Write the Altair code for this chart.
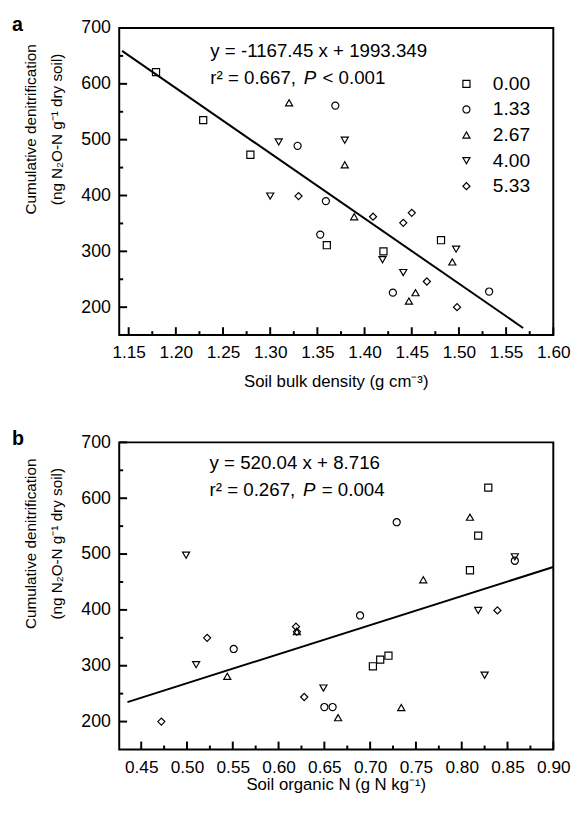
import altair as alt
import pandas as pd

FONT = "Liberation Sans"
levels = ["0.00", "1.33", "2.67", "4.00", "5.33"]
shapes = ["square", "circle", "triangle-up", "triangle-down", "diamond"]

# Panel a: soil bulk density (x) vs cumulative denitrification (y)
a_x_000 = [1.179, 1.229, 1.279, 1.360, 1.420, 1.481]
a_y_000 = [621, 535, 473, 311, 300, 320]
a_x_133 = [1.369, 1.329, 1.359, 1.353, 1.430, 1.532]
a_y_133 = [561, 489, 390, 330, 226, 228]
a_x_267 = [1.320, 1.379, 1.389, 1.493, 1.454, 1.447]
a_y_267 = [566, 455, 362, 281, 226, 211]
a_x_400 = [1.379, 1.309, 1.300, 1.497, 1.419, 1.441]
a_y_400 = [499, 496, 399, 304, 285, 262]
a_x_533 = [1.330, 1.409, 1.441, 1.450, 1.466, 1.498]
a_y_533 = [399, 362, 351, 369, 246, 200]

# Panel b: soil organic N (x) vs cumulative denitrification (y)
b_x_000 = [0.829, 0.818, 0.809, 0.703, 0.711, 0.720]
b_y_000 = [619, 533, 471, 299, 311, 318]
b_x_133 = [0.729, 0.858, 0.689, 0.551, 0.650, 0.659]
b_y_133 = [557, 488, 390, 330, 226, 226]
b_x_267 = [0.809, 0.758, 0.544, 0.734, 0.665, 0.620]
b_y_267 = [566, 454, 281, 225, 207, 361]
b_x_400 = [0.858, 0.499, 0.818, 0.510, 0.825, 0.649]
b_y_400 = [495, 498, 399, 302, 283, 260]
b_x_533 = [0.839, 0.522, 0.628, 0.472, 0.619, 0.620]
b_y_533 = [399, 350, 244, 200, 370, 361]

# Axis ticks
y_major = [200, 300, 400, 500, 600, 700]
y_minor = [250, 350, 450, 550, 650]
a_x_major = [1.15, 1.20, 1.25, 1.30, 1.35, 1.40, 1.45, 1.50, 1.55, 1.60]
a_x_minor = [1.175, 1.225, 1.275, 1.325, 1.375, 1.425, 1.475, 1.525, 1.575]
b_x_major = [0.45, 0.50, 0.55, 0.60, 0.65, 0.70, 0.75, 0.80, 0.85, 0.90]
b_x_minor = [0.475, 0.525, 0.575, 0.625, 0.675, 0.725, 0.775, 0.825, 0.875]

# Regression lines (from the printed equations)
a_slope, a_intercept = -1167.45, 1993.349
a_line_x = [1.143, 1.568]
b_slope, b_intercept = 520.04, 8.716
b_line_x = [0.435, 0.90]

Y_TITLE_1 = "Cumulative denitrification"
Y_TITLE_2 = "(ng N\u2082O-N  g\u207b\u00b9 dry soil)"
W, H = 441, 312
TXT = 19


def build_panel(xs, ys, xdom, xmaj, xmin, xtitle, xtitle_gap, slope, intercept,
                line_x, eq1, eq2a, eq2b, eq2c, eqx, eqy1, eqy2, letter, show_legend):
    rows = []
    for lvl, xv, yv in zip(levels, xs, ys):
        for a, b in zip(xv, yv):
            rows.append({"x": a, "y": b, "level": lvl})
    df = pd.DataFrame(rows)
    xscale = alt.Scale(domain=xdom, nice=False, zero=False)
    yscale = alt.Scale(domain=[150, 700], nice=False, zero=False)

    x_axis = alt.Axis(values=xmaj, format=".2f", orient="bottom", ticks=False,
                      domain=False, grid=False, labelPadding=9, labelFontSize=17.5,
                      labelFont=FONT, labelColor="black", title=None,
                      labelFlush=False)
    y_axis = alt.Axis(values=y_major, format="d", orient="left", ticks=False,
                      domain=False, grid=False, labelPadding=9, labelFontSize=18,
                      labelFont=FONT, labelColor="black", title=None,
                      labelFlush=False)

    if show_legend:
        legend = alt.Legend(orient="none", legendX=343, legendY=47, title=None,
                            labelFontSize=19.5, labelFont=FONT, labelColor="black",
                            symbolSize=52, symbolStrokeWidth=1.2,
                            symbolStrokeColor="black", labelOffset=17, rowPadding=5)
    else:
        legend = None

    points = alt.Chart(df).mark_point(filled=False, color="black", size=52,
                                      strokeWidth=1.2, opacity=1).encode(
        x=alt.X("x:Q", scale=xscale, axis=x_axis),
        y=alt.Y("y:Q", scale=yscale, axis=y_axis),
        shape=alt.Shape("level:N", scale=alt.Scale(domain=levels, range=shapes),
                        legend=legend),
    )

    line = alt.Chart(pd.DataFrame({"x": line_x})).transform_calculate(
        y=f"{slope} * datum.x + {intercept}"
    ).mark_line(color="black", strokeWidth=2).encode(
        x=alt.X("x:Q", scale=xscale, axis=None),
        y=alt.Y("y:Q", scale=yscale, axis=None),
    )

    # inward tick marks along the bottom and left frame
    def xticks(vals, length):
        return alt.Chart(pd.DataFrame({"v": vals})).mark_rule(
            color="black", strokeWidth=2).encode(
            x=alt.X("v:Q", scale=xscale, axis=None),
            y=alt.value(H), y2=alt.value(H - length))

    def yticks(vals, length):
        return alt.Chart(pd.DataFrame({"v": vals})).mark_rule(
            color="black", strokeWidth=2).encode(
            y=alt.Y("v:Q", scale=yscale, axis=None),
            x=alt.value(0), x2=alt.value(length))

    def txt(t, xv, yv, dx=0, italic=False):
        return alt.Chart(pd.DataFrame({"x": [xv], "y": [yv], "t": [t]})).mark_text(
            align="left", baseline="middle", dx=dx, fontSize=TXT, font=FONT,
            color="black", fontStyle="italic" if italic else "normal"
        ).encode(
            x=alt.X("x:Q", scale=xscale, axis=None),
            y=alt.Y("y:Q", scale=yscale, axis=None),
            text="t:N",
        )

    def label(t, px, py, size, angle=0, weight="normal", align="center",
              baseline="middle"):
        return alt.Chart(pd.DataFrame({"t": [t]})).mark_text(
            align=align, baseline=baseline, fontSize=size, fontWeight=weight,
            font=FONT, color="black", angle=angle
        ).encode(x=alt.value(px), y=alt.value(py), text="t:N")

    layers = [points, line,
              xticks(xmaj, 8), xticks(xmin, 4), yticks(y_major, 8), yticks(y_minor, 4),
              txt(eq1, eqx, eqy1),
              txt(eq2a, eqx, eqy2),
              txt(eq2b, eqx, eqy2, dx=95, italic=True),
              txt(eq2c, eqx, eqy2, dx=114),
              label(letter, -109, 3, 20, weight="bold", align="left",
                    baseline="alphabetic"),
              label(Y_TITLE_1, -90, 103, 15.5, angle=270),
              label(Y_TITLE_2, -63, 103, 15.5, angle=270),
              label(xtitle, W / 2, H + xtitle_gap, 17)]
    return alt.layer(*layers).resolve_axis(x="independent", y="independent").properties(
        width=W, height=H)


panel_a = build_panel(
    [a_x_000, a_x_133, a_x_267, a_x_400, a_x_533],
    [a_y_000, a_y_133, a_y_267, a_y_400, a_y_533],
    [1.14, 1.60], a_x_major, a_x_minor, "Soil bulk density (g cm\u207b\u00b3)", 48,
    a_slope, a_intercept, a_line_x,
    "y = -1167.45 x + 1993.349", "r\u00b2 = 0.667,", "P", "< 0.001",
    1.2365, 659.5, 610, "a", True)

panel_b = build_panel(
    [b_x_000, b_x_133, b_x_267, b_x_400, b_x_533],
    [b_y_000, b_y_133, b_y_267, b_y_400, b_y_533],
    [0.426, 0.90], b_x_major, b_x_minor, "Soil organic N  (g N kg\u207b\u00b9)", 36,
    b_slope, b_intercept, b_line_x,
    "y = 520.04 x + 8.716", "r\u00b2 = 0.267,", "P", "= 0.004",
    0.5246, 663, 614, "b", False)

chart = alt.vconcat(panel_a, panel_b, spacing=109, bounds="flush").resolve_scale(
    shape="independent"
).configure_view(stroke="black", strokeWidth=2).properties(
    background="white",
    padding={"left": 3, "top": 0, "right": 0, "bottom": 0},
)

chart.save("out.html", embed_options={"renderer": "svg", "actions": False})
